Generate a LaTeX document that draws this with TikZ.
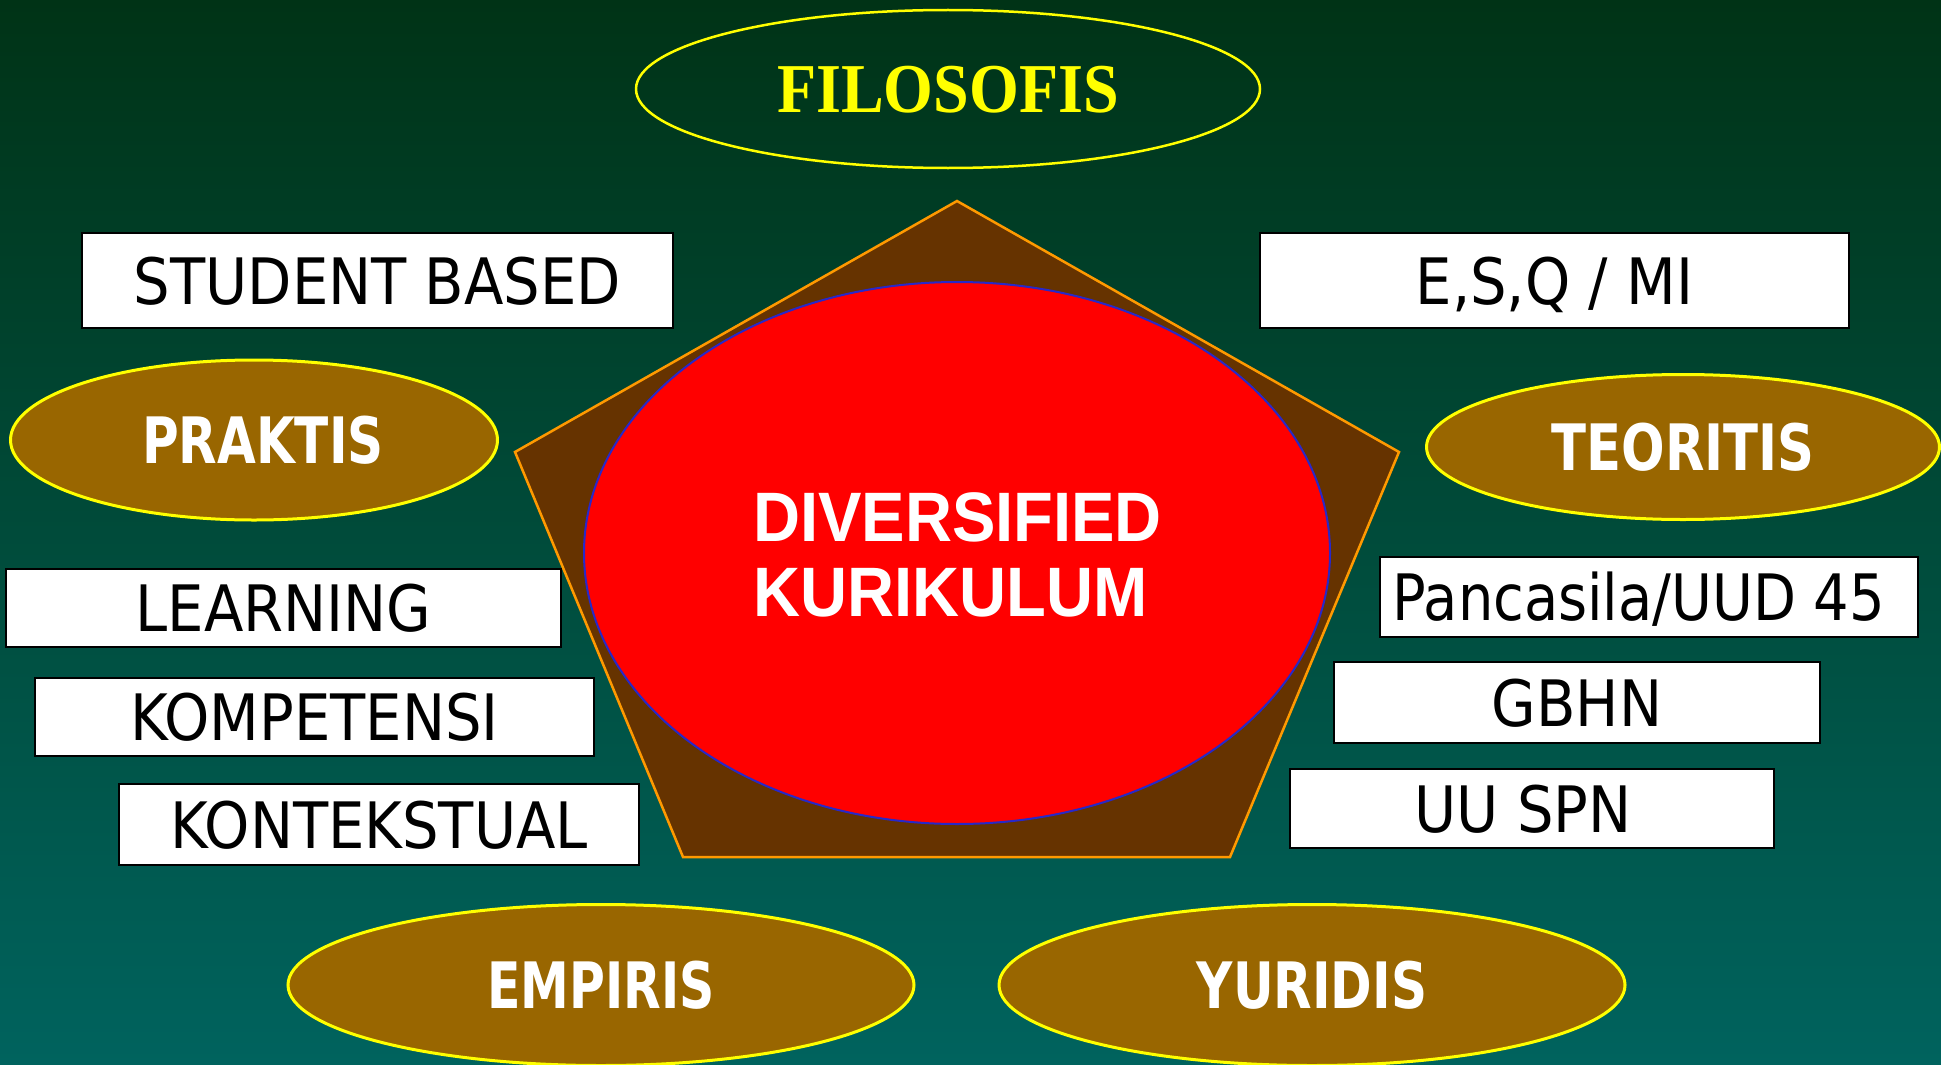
\documentclass[tikz,border=0pt]{standalone}
\usepackage{fontspec}
\usepackage{graphicx}
\usetikzlibrary{shapes.geometric}
\newfontfamily\boxfont{DejaVu Sans Condensed}
\newfontfamily\serifbold{Liberation Serif}
\newfontfamily\arialfont{Liberation Sans}
\definecolor{bgtop}{RGB}{0,51,22}
\definecolor{bgbot}{RGB}{0,99,94}
\definecolor{ovalfill}{RGB}{153,102,0}
\definecolor{pentfill}{RGB}{102,51,0}
\definecolor{pentline}{RGB}{255,153,0}
\definecolor{ringblue}{RGB}{40,40,200}
\definecolor{ylw}{RGB}{255,255,0}
\begin{document}
\begin{tikzpicture}[x=1pt,y=-1pt,
  labelbox/.style={draw=black, line width=2.5pt, fill=white, inner sep=0pt,
    text=black, font=\boxfont\fontsize{64}{70}\selectfont,
    text height=47pt, text depth=0pt},
  oval/.style={ellipse, draw=ylw, line width=3pt, fill=ovalfill, inner sep=0pt,
    text=white, font=\boxfont\bfseries\fontsize{64}{70}\selectfont,
    text height=47pt, text depth=0pt},
  centertext/.style={anchor=base west, inner sep=0pt, text=white,
    font=\arialfont\bfseries\fontsize{70}{76}\selectfont}
]
% background
\useasboundingbox (0pt,0pt) rectangle (1941pt,-1065pt);
\shade[top color=bgtop, bottom color=bgbot] (0pt,0pt) rectangle (1941pt,-1065pt);

% top ellipse
\node[ellipse, draw=ylw, line width=2.5pt, inner sep=0pt,
  minimum width=624pt, minimum height=158pt,
  text=ylw, font=\serifbold\bfseries\fontsize{70}{76}\selectfont,
  text height=46pt, text depth=0pt] (filo) at (948,89) {\scalebox{0.915}[1]{FILOSOFIS}};

% pentagon
\coordinate (pTop) at (957,201);
\coordinate (pR) at (1399,452);
\coordinate (pBR) at (1230,857);
\coordinate (pBL) at (683,857);
\coordinate (pL) at (515,452);
\draw[pentline, fill=pentfill, line width=2.5pt, line join=miter]
  (pTop) -- (pR) -- (pBR) -- (pBL) -- (pL) -- cycle;

% central red ellipse
\node[ellipse, draw=ringblue, line width=2pt, fill=red, inner sep=0pt,
  minimum width=746pt, minimum height=542pt] (core) at (957,553) {};
\node[centertext] (div1) at (753,541) {\scalebox{0.93}[1]{DIVERSIFIED}};
\node[centertext] (div2) at (753,616) {\scalebox{0.93}[1]{KURIKULUM}};

% ovals
\node[oval, minimum width=487pt, minimum height=160pt] (praktis) at (254,440)
  {\hspace*{18pt}\scalebox{0.87}[1]{PRAKTIS}};
\node[oval, minimum width=513pt, minimum height=145pt] (teoritis) at (1683,447)
  {\scalebox{0.89}[1]{TEORITIS}};
\node[oval, minimum width=626pt, minimum height=161pt] (empiris) at (601,985)
  {\scalebox{0.85}[1]{EMPIRIS}};
\node[oval, minimum width=626pt, minimum height=161pt] (yuridis) at (1312,985)
  {\scalebox{0.87}[1]{YURIDIS}};

% boxes
\node[labelbox, minimum width=591pt, minimum height=95pt] (student) at (377.5,280.5) {STUDENT BASED};
\node[labelbox, minimum width=589pt, minimum height=95pt] (esq) at (1554.5,280.5) {E,S,Q / MI};
\node[labelbox, minimum width=555pt, minimum height=78pt] (learning) at (283.5,608) {LEARNING};
\node[labelbox, minimum width=559pt, minimum height=78pt] (kompetensi) at (314.5,717) {KOMPETENSI};
\node[labelbox, minimum width=520pt, minimum height=81pt] (kontekstual) at (379,824.5) {KONTEKSTUAL};
\node[labelbox, minimum width=538pt, minimum height=80pt] (pancasila) at (1649,597) {\hspace*{-20pt}\scalebox{0.97}[1]{Pancasila/UUD 45}};
\node[labelbox, minimum width=486pt, minimum height=81pt] (gbhn) at (1577,702.5) {GBHN};
\node[labelbox, minimum width=484pt, minimum height=79pt] (uuspn) at (1532,808.5) {\hspace*{-18pt}UU SPN};
\end{tikzpicture}
\end{document}
